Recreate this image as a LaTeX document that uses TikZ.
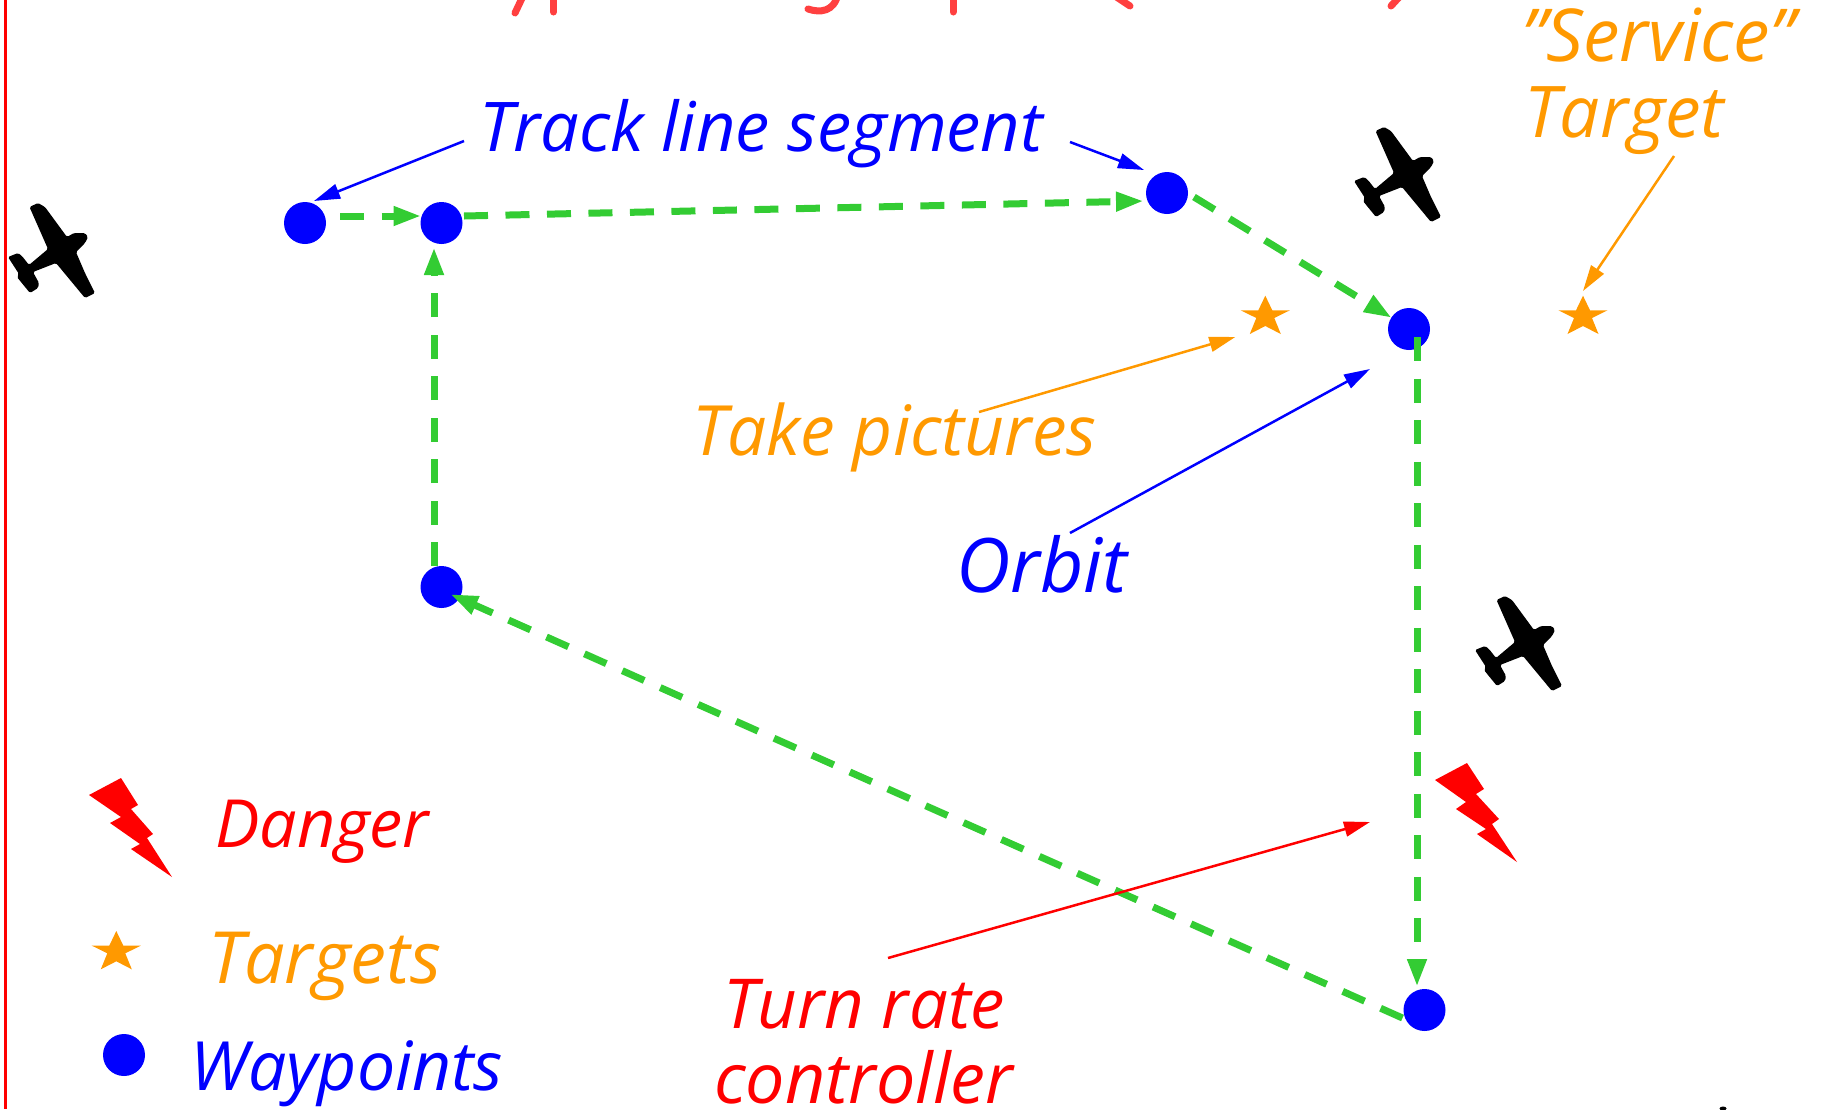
\documentclass[tikz,border=0pt]{standalone}
\usepackage{fontspec}
\usepackage{graphicx}
\usetikzlibrary{arrows.meta}
\setmainfont{Open Sans}
\definecolor{cblue}{HTML}{0000FF}
\definecolor{corange}{HTML}{FF9900}
\definecolor{cgreen}{HTML}{33CC33}
\definecolor{cred}{HTML}{FF0000}
\definecolor{ctitle}{HTML}{FF4040}
\newcommand{\fit}[2]{\resizebox{#1pt}{!}{\fontsize{66}{70}\selectfont\itshape #2}}
\tikzset{
  way/.style={circle,fill=cblue,inner sep=0pt,minimum size=42pt},
  leg/.style={cgreen,line width=7pt,dash pattern=on 24pt off 17.5pt,-{Triangle[length=28pt,width=18pt]}},
  note/.style={line width=2.5pt,-{Triangle[length=26pt,width=15pt]}},
  lab/.style={anchor=base west,inner sep=0pt},
  descender/.style={ctitle,line width=7pt,line cap=round},
  bolt/.style={fill=cred},
  plane/.style={fill=black,rounded corners=1.5pt},
  starfill/.style={fill=corange}
}
\newcommand{\planeshape}{(29.5,207) -- (38,203) -- (45,207) -- (67,237) -- (74,233) -- (85,233) -- (88,237) -- (85,243) -- (76,252) -- (85,273) -- (95,293) -- (85,298) -- (56,263) -- (33,272) -- (39,283) -- (38,288) -- (30,293) -- (21,282) -- (17,277) -- (19,274) -- (8,257) -- (18,253) -- (22,256) -- (29,265) -- (48,249) -- cycle}
\newcommand{\starshape}{(0,-19.3) -- (7,-4.7) -- (24.6,-4.7) -- (9,3) -- (15.5,19) -- (0,11) -- (-15.5,19) -- (-9,3) -- (-24.6,-4.7) -- (-7,-4.7) -- cycle}
\begin{document}
\begin{tikzpicture}[x=1pt,y=-1pt]
\useasboundingbox (0,0) rectangle (1821,1109);
\clip (0,0) rectangle (1821,1109);
\draw[cred,line width=2.5pt] (5.5,0) -- (5.5,1109);
% title fragments
\draw[descender] (524,-6) -- (515,13);
\draw[descender] (553.5,-6) -- (553.5,12);
\draw[descender] (838,-6) .. controls (834,12) and (820,13) .. (808,9);
\draw[descender] (953,-6) -- (953,12);
\draw[descender] (1112,-6) -- (1130,6);
\draw[descender] (1402,-6) -- (1391,6);
% fragment at the lower edge
\fill[black] (1723,1108.5) ellipse (3.5pt and 2pt);
% waypoints
\node[way] (A) at (305,223) {};
\node[way] (B) at (441.5,223) {};
\node[way] (C) at (1167,193) {};
\node[way] (D) at (1409,329) {};
\node[way] (E) at (1424.5,1010) {};
\node[way] (F) at (441.5,587) {};
\node[way] (Wleg) at (124,1055) {};
% targets
\coordinate (S1) at (1265.3,315);
\coordinate (S2) at (1583,315);
\coordinate (Sleg) at (116.3,950.3);
\fill[starfill,shift={(S1)}] \starshape;
\fill[starfill,shift={(S2)}] \starshape;
\fill[starfill,shift={(Sleg)}] \starshape;
% flight path
\draw[leg] ([shift={(35,-7)}]A.center) -- ([shift={(-20,-7)}]B.center);
\draw[leg] ([shift={(22.5,-7)}]B.center) -- ([shift={(-23,8)}]C.center);
\draw[leg] ([shift={(27,4)}]C.center) -- ([shift={(-17,-11)}]D.center);
\draw[leg] ([shift={(8,8)}]D.center) -- ([shift={(-7.5,-23)}]E.center);
\draw[leg] ([shift={(-22,8)}]E.center) -- ([shift={(8.5,7)}]F.center);
\draw[leg] ([shift={(-7.5,-21)}]F.center) -- ([shift={(-7.5,24)}]B.center);
% labels
\node[lab,text=cblue] (track) at (479,151) {\fit{564}{Track line segment}};
\node[lab,text=corange] (pics) at (692.5,455) {\fit{404}{Take pictures}};
\node[lab,text=cblue] (orbit) at (956,592) {\fit{171}{Orbit}};
\node[lab,text=corange] (serv) at (1521,61) {\fit{274}{"Service"}};
\node[lab,text=corange] (targ) at (1524,137) {\fit{200}{Target}};
\node[lab,text=cred] (dang) at (215,847) {\fit{214}{Danger}};
\node[lab,text=corange] (targs) at (208,983) {\fit{233}{Targets}};
\node[lab,text=cblue] (wayp) at (190,1090) {\fit{313}{Waypoints}};
\node[lab,text=cred] (turn) at (723,1028) {\fit{282}{Turn rate}};
\node[lab,text=cred] (ctrl) at (714,1103) {\fit{299}{controller}};
% annotation ends
\coordinate (t1) at (464,141);
\coordinate (t2) at (1070,142);
\coordinate (p1) at (979,412);
\coordinate (o1) at (1070,533);
\coordinate (s1) at (1674,156);
\coordinate (r1) at (888,958);
\coordinate (r2) at (1370,822);
\draw[note,cblue] (t1) -- ([shift={(9,-22)}]A.center);
\draw[note,cblue] (t2) -- ([shift={(-23,-23)}]C.center);
\draw[note,corange] (p1) -- ([shift={(-30,22)}]S1);
\draw[note,cblue] (o1) -- ([shift={(-39,40)}]D.center);
\draw[note,corange] (s1) -- ([shift={(0,-24)}]S2);
\draw[note,cred] (r1) -- (r2);
% danger bolts
\fill[bolt] (89,795) -- (121,778) -- (138,805) -- (131,809) -- (153,834) -- (147,838) -- (172,877) -- (131,849) -- (140,844) -- (110,823) -- (121,817) -- cycle;
\fill[bolt] (1435,780) -- (1467,763) -- (1484,789) -- (1476,794) -- (1499,819) -- (1492,824) -- (1517,862) -- (1477,834) -- (1486,829) -- (1456,809) -- (1466,802) -- cycle;
% aircraft
\fill[plane] \planeshape;
\fill[plane,shift={(1346,-76)}] \planeshape;
\fill[plane,shift={(1467,393)}] \planeshape;
\end{tikzpicture}
\end{document}
